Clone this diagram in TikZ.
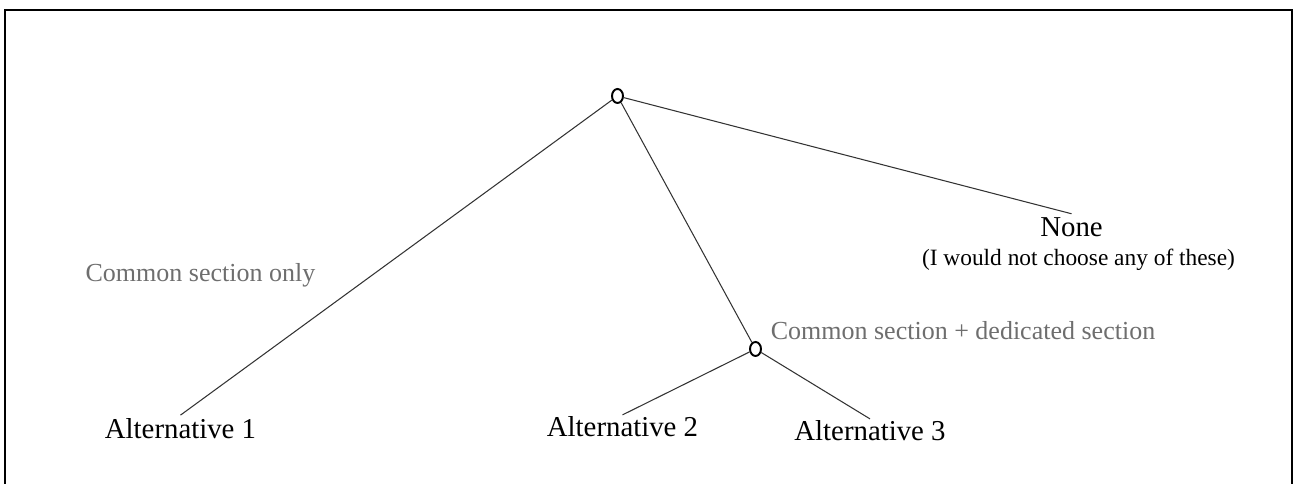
\documentclass[tikz,border=0pt]{standalone}
\usepackage{fontspec}
\setmainfont{Liberation Serif}
\usepackage{tikz}
\usetikzlibrary{positioning,shapes.geometric}
\usepackage{xcolor}
\definecolor{labelgray}{RGB}{110,110,110}

\begin{document}
\begin{tikzpicture}[
    fork/.style={draw, ellipse, line width=1.1pt, minimum width=0.22cm, minimum height=0.28cm, inner sep=0pt},
    choice/.style={font=\fontsize{16.4}{19}\selectfont, inner sep=2pt, anchor=base},
    note/.style={font=\fontsize{13.3}{16}\selectfont, inner sep=1pt, anchor=base},
    branch/.style={font=\fontsize{14.8}{18}\selectfont, text=labelgray, inner sep=1pt, anchor=base},
    edge/.style={draw=black!80, line width=0.6pt}
]
\useasboundingbox (0,0) rectangle (25.88,9.68);
\draw[line width=1.1pt] (0.1,-0.2) rectangle (25.84,9.48);

\node[fork] (top) at (12.35,7.76) {};
\node[fork] (split) at (15.11,2.70) {};

\node[choice] (alt1) at (3.61,0.90) {Alternative 1};
\node[choice, inner sep=1pt] (alt2) at (12.45,0.94) {Alternative 2};
\node[choice, inner sep=1pt] (alt3) at (17.40,0.86) {Alternative 3};
\node[choice] (none) at (21.43,4.95) {None};
\node[note] (noneNote) at (21.57,4.36) {(I would not choose any of these)};

\node[branch] (commonOnly) at (4.01,4.04) {Common section only};
\node[branch] (commonPlus) at (19.26,2.88) {Common section + dedicated section};

\draw[edge] (top) -- (alt1.north);
\draw[edge] (top) -- (split);
\draw[edge] (top) -- (none.north);
\draw[edge] (split) -- (alt2.north);
\draw[edge] (split) -- (alt3.north);

\end{tikzpicture}
\end{document}
